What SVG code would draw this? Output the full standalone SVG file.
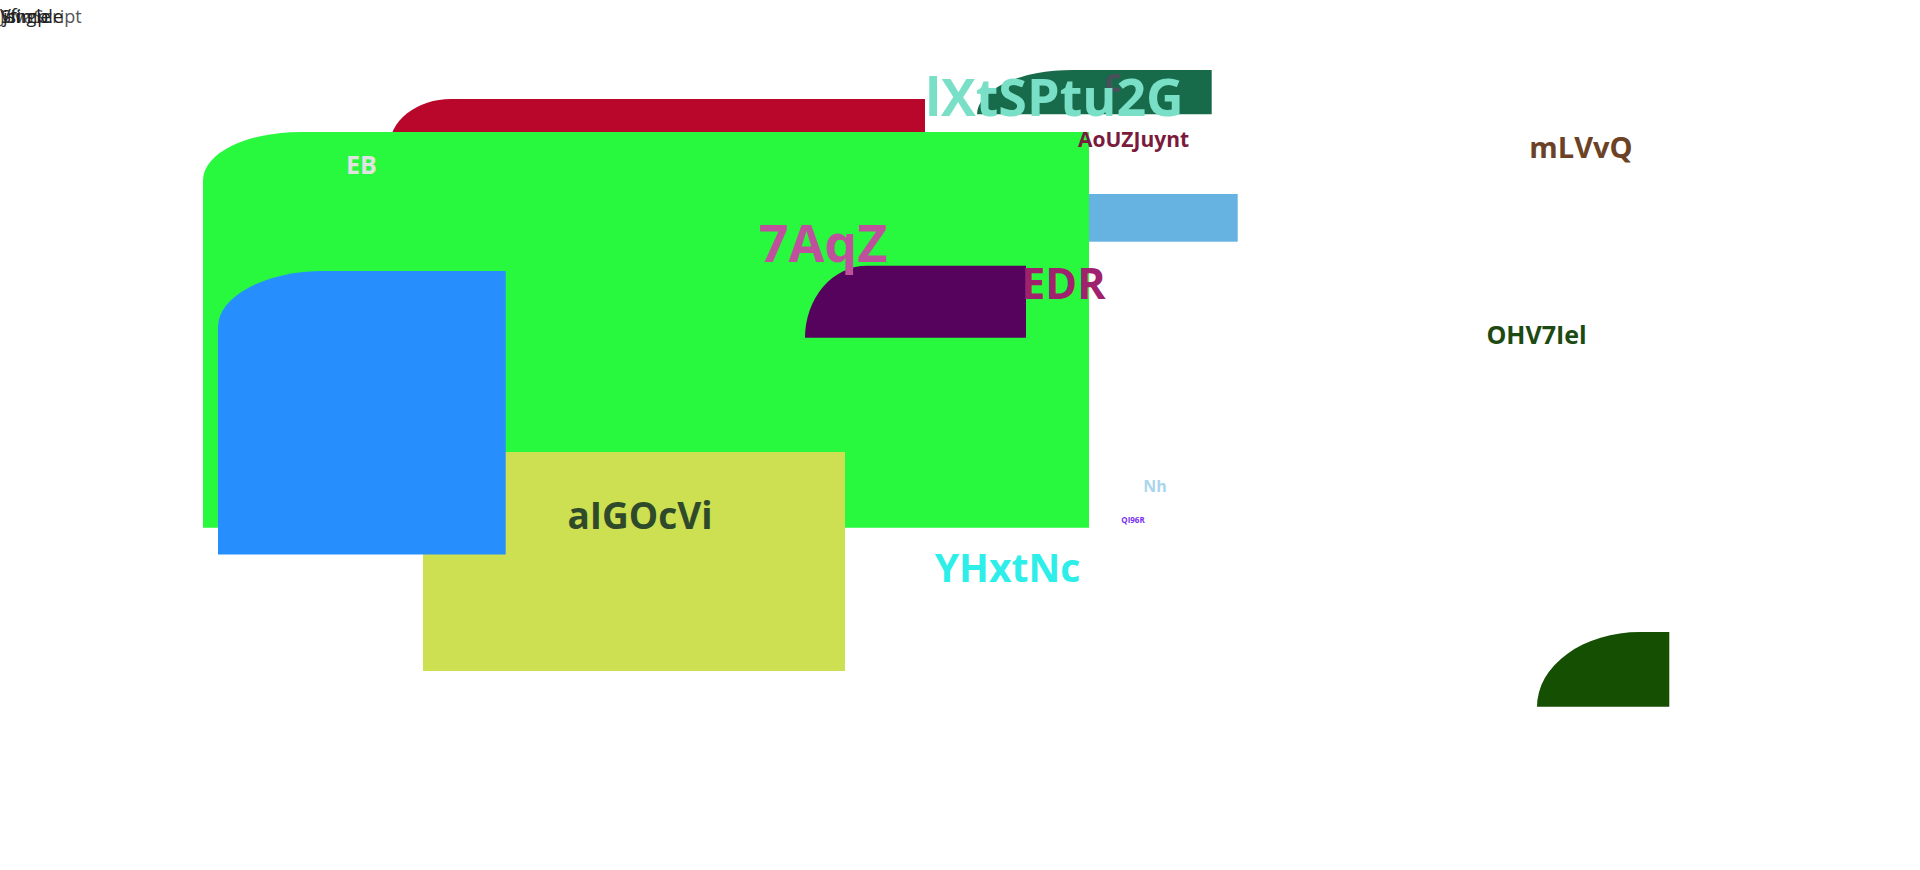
<svg xmlns="http://www.w3.org/2000/svg" width="1920" height="870" viewBox="0 0 1920 870">
<style>
text{font-family:"Open Sans","Noto Sans","Liberation Sans",sans-serif;font-weight:700;text-anchor:middle}
.tl{font-weight:400;text-anchor:start;font-size:18px}
</style>
<rect width="1920" height="870" fill="#ffffff"/>
<g id="labels-topleft">
<text class="tl" x="0" y="23" fill="#555555">JavaScript</text>
<text class="tl" x="1" y="23" fill="#222222">Single</text>
<text class="tl" x="0" y="22" fill="#2a2a2a">Vfi</text>
<text class="tl" x="3" y="23" fill="#1e1e1e">jsimple</text>
</g>
<g id="node-red"><path d="M389,148 A62,49 0 0 1 451,99 L925,99 L925,300 L389,300 Z" fill="#B8072A"/></g>
<g id="node-lightblue"><rect x="1000" y="194" width="237.7" height="47.7" fill="#66B3E2"/></g>
<g id="node-green"><path d="M203,180 A97,48 0 0 1 300,132 L1089,132 L1089,527.7 L203,527.7 Z" fill="#29F93E"/>
<text x="361.5" y="174" font-size="25" fill="#E2E2E2">EB</text></g>
<g id="node-yellow"><rect x="423" y="452" width="422" height="219" fill="#CDE052"/>
<text x="640" y="529" font-size="37" fill="#2F4A2A">aIGOcVi</text></g>
<g id="node-blue"><path d="M218,327 A106,56 0 0 1 324,271 L505.7,271 L505.7,554.5 L218,554.5 Z" fill="#268EFD"/></g>
<g id="node-purple"><path d="M805,337.7 A62,72 0 0 1 867,265.7 L1026,265.7 L1026,337.7 Z" fill="#55035C"/></g>
<g id="node-darkgreen"><path d="M977,114.3 A96,44.3 0 0 1 1073,70 L1211.7,70 L1211.7,114.3 Z" fill="#186B4A"/>
<text x="1113" y="92" font-size="32" fill="#4A4F5C">c</text></g>
<g id="node-bottomgreen"><path d="M1537,706.7 A103,74.7 0 0 1 1640,632 L1669.3,632 L1669.3,706.7 Z" fill="#144F02"/></g>
<g id="connectors"></g>
<g id="labels">
<text x="1054.5" y="116" font-size="52" fill="#7ADFC7">lXtSPtu2G</text>
<text x="1133.5" y="147.3" font-size="21" fill="#7A1A3C">AoUZJuynt</text>
<text x="1581" y="158.3" font-size="29" fill="#6B4226">mLVvQ</text>
<text x="823" y="261.7" font-size="52" fill="#BF509B">7AqZ</text>
<text x="1063.4" y="299.3" font-size="43" fill="#A0226E">EDR</text>
<text x="1536.5" y="344.3" font-size="25" fill="#1D4A12">OHV7Iel</text>
<text x="1155" y="492" font-size="16" fill="#A9D6EC">Nh</text>
<text x="1133" y="523.3" font-size="8" fill="#7B30F0">QI96R</text>
<text x="1007.5" y="581.7" font-size="39" fill="#2DEEE8">YHxtNc</text>
</g>
</svg>
